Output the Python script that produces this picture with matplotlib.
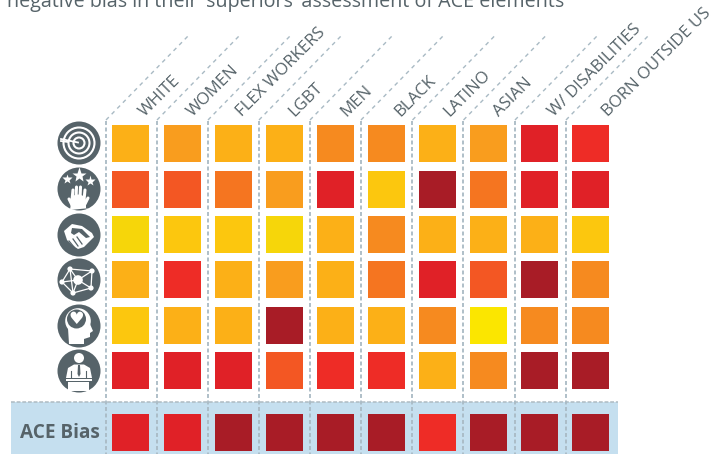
import matplotlib
matplotlib.use("Agg")
import matplotlib.pyplot as plt
from matplotlib.patches import Rectangle, Circle, Polygon, Ellipse

groups = ["WHITE", "WOMEN", "FLEX WORKERS", "LGBT", "MEN", "BLACK", "LATINO",
          "ASIAN", "W/ DISABILITIES", "BORN OUTSIDE US"]

# colour steps seen in the picture, low bias to high bias
palette = ["#FBE600", "#F6D60A", "#FCC70E", "#FCB017", "#F99D1E", "#F68A1F",
           "#F57520", "#F35723", "#EE2C26", "#E02127", "#A81C26"]

row_target = [3, 4, 3, 3, 5, 5, 3, 4, 9, 8]
row_stars = [7, 7, 6, 4, 9, 2, 10, 6, 9, 9]
row_hands = [1, 2, 2, 1, 3, 5, 3, 3, 3, 2]
row_network = [3, 8, 3, 4, 3, 6, 9, 7, 10, 5]
row_head = [2, 3, 3, 10, 3, 3, 5, 0, 5, 5]
row_speaker = [9, 9, 9, 7, 8, 8, 3, 5, 10, 10]
ace_bias = [9, 9, 10, 10, 10, 10, 8, 10, 10, 10]

rows = [row_target, row_stars, row_hands, row_network, row_head, row_speaker, ace_bias]

col_left = [112, 164, 215, 266, 317, 368, 419, 470, 521, 572]
row_top = [125, 171, 216, 261, 307, 352, 414]
line_x = [106, 157, 208, 259, 310, 361, 412.5, 463.5, 515, 566]
label_x = [144.5, 192.5, 242.5, 294.5, 346.5, 400.5, 449.5, 499.5, 554.5, 608.5]
SIZE = 37
DARK = "#566369"
DASH = "#A9BAC4"
FONT = "Open Sans"

fig = plt.figure(figsize=(7.25, 4.54), dpi=100)
ax = fig.add_axes([0, 0, 1, 1])
ax.set_xlim(0, 725)
ax.set_ylim(454, 0)
ax.axis("off")

ax.add_patch(Rectangle((11, 402), 607, 52, fc="#C5DFEF", ec="none", zorder=1))
ax.plot([11, 618], [402, 402], color="#AEBBC2", lw=1.1, dashes=(2.5, 1.2), zorder=2)

for x in line_x:
    ax.plot([x, x], [121, 454], color=DASH, lw=1.3, dashes=(2.2, 1.4), zorder=2)
    ax.plot([x, x + 83], [120, 35], color=DASH, lw=1.0, dashes=(2.9, 2.9), zorder=2)

for r, row in enumerate(rows):
    for c, level in enumerate(row):
        ax.add_patch(Rectangle((col_left[c], row_top[r]), SIZE, SIZE,
                               fc=palette[level], ec="none", zorder=3))

# column labels, anchored at their lower left end
for x, name in zip(label_x, groups):
    ax.text(x, 117, name, rotation=45, rotation_mode="anchor", ha="left", va="baseline",
            fontsize=12.1, color=DARK, family=FONT)

ax.text(59.5, 433, "ACE Bias", ha="center", va="center", fontsize=13.7, fontweight="bold",
        color=DARK, family=FONT)
ax.text(7, 7, "negative bias in their \u2018superiors\u2019 assessment of ACE elements", ha="left",
        va="baseline", fontsize=14.2, color=DARK, family=FONT)

# icons
cx = 79
centres = [143, 189, 235, 280, 326, 371]
for cy in centres:
    ax.add_patch(Circle((cx, cy), 21.5, fc=DARK, ec="none", zorder=3))


def ring(x, y, r, lw=1.5):
    ax.add_patch(Circle((x, y), r, fc="none", ec="white", lw=lw, zorder=4))


def blob(x, y, r, color="white"):
    ax.add_patch(Circle((x, y), r, fc=color, ec="none", zorder=5))


def star(x, y, size):
    ax.plot([x], [y], marker="*", ms=size, mfc="white", mec="none", zorder=5)


# target
ring(79, 143, 15.5)
ring(79, 143, 10.5)
ring(79, 143, 5.5)
blob(79, 143, 2.5, DARK)
ax.plot([61, 78], [139, 142.5], color="white", lw=1.3, zorder=5)
ax.plot([61, 68], [141, 142], color="white", lw=1.3, zorder=5)

# stars and hand
star(79, 175, 11)
star(67, 179, 7)
star(90, 181, 8)
ax.add_patch(Ellipse((78, 201), 16, 13, fc="white", ec="none", zorder=5))
for x0, y0, x1, y1 in [(72, 200, 73, 190), (76, 198, 76.5, 187), (80, 198, 80.5, 187),
                       (84, 200, 85, 190), (72, 205, 69, 199), (85, 204, 88, 198)]:
    ax.plot([x0, x1], [y0, y1], color="white", lw=2.2, solid_capstyle="round", zorder=5)
ax.add_patch(Polygon([[71, 203], [86, 203], [86, 208], [90, 208], [70, 210]], fc="white", ec="none", zorder=5))

# handshake
ax.add_patch(Polygon([[64, 231], [72, 224], [82, 226], [92, 233], [94, 237], [84, 247],
                      [78, 249], [72, 245], [67, 240]],
                     fc="white", ec="none", zorder=5))
ax.add_patch(Polygon([[72, 228], [82, 229], [90, 237], [86, 238], [79, 232], [74, 235], [71, 233]],
                     fc=DARK, ec="none", zorder=6))
for x0, y0, x1, y1 in [(69, 241, 74, 247), (73, 239, 78, 246), (77, 237, 82, 244)]:
    ax.plot([x0, x1], [y0, y1], color=DARK, lw=0.9, zorder=6)

# network
nodes = [(70, 269), (92, 271), (62, 282), (78, 280), (91, 288), (73, 293)]
links = [(0, 1), (0, 2), (0, 3), (1, 3), (1, 4), (2, 3), (2, 5), (3, 4), (3, 5), (4, 5), (0, 5)]
for a, b in links:
    ax.plot([nodes[a][0], nodes[b][0]], [nodes[a][1], nodes[b][1]], color="white", lw=0.9, zorder=4)
for i, (x, y) in enumerate(nodes):
    blob(x, y, 4.8 if i == 3 else 2.6)

# head with heart
ax.add_patch(Circle((78, 321), 12.8, fc="white", ec="none", zorder=4))
ax.add_patch(Polygon([[68, 328], [90, 324], [93, 331], [90, 333], [90, 337], [84, 339], [84, 344], [69, 344]],
                     fc="white", ec="none", zorder=4))
blob(76.5, 319, 9.5, DARK)
ax.text(76.5, 319, "\u2665", color="white", fontsize=12.5, ha="center", va="center",
        family="DejaVu Sans", zorder=6)

# speaker at lectern
blob(79, 358, 5)
ax.add_patch(Polygon([[66, 378], [68, 368], [74, 364.5], [84, 364.5], [90, 368], [92, 378]],
                     fc="white", ec="none", zorder=4))
ax.add_patch(Polygon([[78, 365], [80, 365], [80.5, 374], [79, 377], [77.5, 374]], fc=DARK, ec="none", zorder=5))
ax.plot([71.5, 71.5], [371, 378], color=DARK, lw=0.8, zorder=5)
ax.plot([86.5, 86.5], [371, 378], color=DARK, lw=0.8, zorder=5)
ax.add_patch(Rectangle((66, 378.5), 26, 2.5, fc="white", ec="none", zorder=5))
ax.add_patch(Rectangle((68.5, 382), 21, 8.5, fc="white", ec="none", zorder=5))

fig.savefig("out.png", dpi=100)
